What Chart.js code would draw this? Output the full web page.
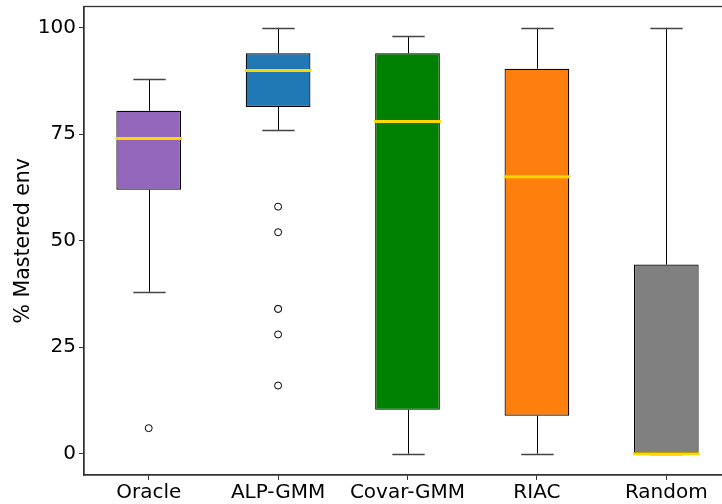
<!DOCTYPE html>
<html>
<head>
<meta charset="utf-8">
<script src="https://cdn.jsdelivr.net/npm/chart.js@4.4.1/dist/chart.umd.min.js"></script>
<style>
  html, body { margin: 0; padding: 0; background: #fff; overflow: hidden; }
  #wrap { width: 740px; height: 504px; }
</style>
</head>
<body>
<div id="wrap"><canvas id="box"></canvas></div>
<script>
// dati
const categories = ['Oracle', 'ALP-GMM', 'Covar-GMM', 'RIAC', 'Random'];
const whiskerLow = [38, 76, 0, 0, 0];
const q1 = [62, 81.4, 10.3, 8.9, 0];
const medians = [74, 90, 78, 65, 0];
const q3 = [80.5, 94, 94, 90.4, 44.4];
const whiskerHigh = [88, 100, 98, 100, 100];
const outliers = [
    ['Oracle', 6],
    ['ALP-GMM', 58], ['ALP-GMM', 52], ['ALP-GMM', 34], ['ALP-GMM', 34],
    ['ALP-GMM', 28], ['ALP-GMM', 16]
];
const boxColors = ['#9467bd', '#1f77b4', '#008000', '#ff7f0e', '#808080'];
const yTicks = [0, 25, 50, 75, 100];

const FONT = { family: 'DejaVu Sans', size: 20 };

// baffi, mediane e cornice disegnati con le scale del grafico
const boxPlotExtras = {
    id: 'boxPlotExtras',
    beforeDatasetsDraw(chart) {
        const ctx = chart.ctx;
        const x = chart.scales.x, y = chart.scales.y;
        const capHalf = (x.getPixelForValue(1) - x.getPixelForValue(0)) * 0.125;
        ctx.save();
        ctx.lineWidth = 1;
        categories.forEach((c, i) => {
            const cx = Math.round(x.getPixelForValue(i)) + 0.5;
            ctx.strokeStyle = '#000';
            ctx.beginPath();
            ctx.moveTo(cx, y.getPixelForValue(whiskerLow[i]));
            ctx.lineTo(cx, y.getPixelForValue(q1[i]));
            ctx.moveTo(cx, y.getPixelForValue(q3[i]));
            ctx.lineTo(cx, y.getPixelForValue(whiskerHigh[i]));
            ctx.stroke();
            ctx.strokeStyle = '#444';
            ctx.lineWidth = 1.4;
            ctx.beginPath();
            [whiskerLow[i], whiskerHigh[i]].forEach(v => {
                const py = Math.round(y.getPixelForValue(v)) + 0.5;
                ctx.moveTo(cx - capHalf, py);
                ctx.lineTo(cx + capHalf, py);
            });
            ctx.stroke();
            ctx.lineWidth = 1;
        });
        ctx.restore();
    },
    afterDatasetsDraw(chart) {
        const ctx = chart.ctx;
        const x = chart.scales.x, y = chart.scales.y;
        const half = (x.getPixelForValue(1) - x.getPixelForValue(0)) * 0.25;
        ctx.save();
        ctx.strokeStyle = '#ffd700';
        ctx.lineWidth = 3;
        categories.forEach((c, i) => {
            const cx = x.getPixelForValue(i);
            const py = y.getPixelForValue(medians[i]);
            ctx.beginPath();
            ctx.moveTo(cx - half - 1, py);
            ctx.lineTo(cx + half + 1, py);
            ctx.stroke();
        });
        // cornice
        const a = chart.chartArea;
        ctx.strokeStyle = '#333';
        ctx.lineWidth = 1.3;
        ctx.strokeRect(a.left, a.top, a.right - a.left, a.bottom - a.top);
        ctx.restore();
    }
};

const ctx = document.getElementById('box').getContext('2d');
new Chart(ctx, {
    type: 'bar',
    data: {
        labels: categories,
        datasets: [
            {
                label: 'box',
                data: categories.map((c, i) => [q1[i], q3[i]]),
                backgroundColor: boxColors,
                borderColor: '#000',
                borderWidth: 1.2,
                borderSkipped: false,
                barPercentage: 0.5,
                categoryPercentage: 1,
                order: 2
            },
            {
                type: 'line',
                label: 'outliers',
                data: outliers.map(o => ({ x: o[0], y: o[1] })),
                showLine: false,
                pointRadius: 3.5,
                pointBackgroundColor: '#fff',
                pointBorderColor: '#000',
                pointBorderWidth: 1,
                order: 1
            }
        ]
    },
    options: {
        responsive: true,
        maintainAspectRatio: false,
        animation: false,
        layout: { padding: { top: 6.5, right: 9, left: 0, bottom: 0 } },
        plugins: { legend: { display: false }, tooltip: { enabled: false } },
        scales: {
            x: {
                offset: true,
                grid: { display: true, drawOnChartArea: false, tickLength: 5, color: '#333', offset: false },
                border: { display: true, color: '#333', width: 1.3 },
                ticks: { font: FONT, color: '#000', padding: 1, maxRotation: 0 },
                afterFit(scale) {
                    scale.height = 29;
                    scale.paddingLeft = 0;
                    scale.paddingRight = 0;
                }
            },
            y: {
                min: -5,
                max: 105,
                grid: { display: true, drawOnChartArea: false, tickLength: 5, color: '#333' },
                border: { display: true, color: '#333', width: 1.3 },
                ticks: { font: FONT, color: '#000', padding: 3 },
                afterBuildTicks(scale) { scale.ticks = yTicks.map(v => ({ value: v })); },
                afterFit(scale) {
                    scale.width = 84;
                    scale.paddingTop = 0;
                    scale.paddingBottom = 0;
                },
                title: {
                    display: true,
                    text: '% Mastered env',
                    font: { family: 'DejaVu Sans', size: 20.5 },
                    color: '#000',
                    padding: { top: 11, bottom: 0 }
                }
            }
        }
    },
    plugins: [boxPlotExtras]
});
</script>
</body>
</html>
